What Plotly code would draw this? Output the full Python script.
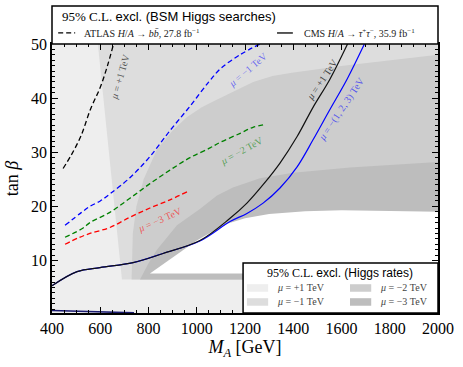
import plotly.graph_objects as go

# ── data ───────────────────────────────────────────────────────────────────────
Y_LO, Y_HI = 0.3, 50
X_LO, X_HI = 400, 2000

# excluded regions from Higgs rates (nested, drawn light -> dark, then allowed hole)
mu_p1_x = [400, 2000, 2000, 400]
mu_p1_y = [Y_LO, Y_LO, 50, 50]
mu_m1_x = [590, 690, 2000, 2000]
mu_m1_y = [50, 6.5, 6.5, 50]
mu_m2_x = [730, 735, 750, 780, 835, 900, 960, 1021, 1074, 1182, 1234, 1314, 1394, 1607, 2000, 2000]
mu_m2_y = [6.5, 15, 20, 25, 30.5, 34, 36.5, 38.3, 39.5, 41.9, 43, 44.1, 44.7, 46, 48, 6.5]
mu_m3_x = [765, 800, 835, 918, 1013, 1084, 1150, 1262, 1400, 1500, 1635, 2000, 2000]
mu_m3_y = [6.5, 9.5, 12, 16.5, 19.5, 22, 23.5, 25.2, 26.2, 26.6, 27.2, 28.2, 6.5]
allowed_x = [806, 900, 1000, 1060, 1126, 1200, 1300, 1450, 1600, 2000, 2000]
allowed_y = [7.6, 10.6, 13.7, 15.2, 16.8, 17.8, 18.6, 19.1, 19.3, 19.0, 7.6]

# ATLAS H/A -> bb (dashed)
atlas_p1_x = [446, 480, 520, 560, 600, 630, 655]
atlas_p1_y = [27, 29.5, 33, 38, 42, 46, 50]
atlas_m1_x = [454, 520, 557, 600, 640, 723, 806, 889, 972, 1050, 1100, 1179, 1262]
atlas_m1_y = [16.5, 18.8, 20.0, 21.0, 22.3, 25.3, 29.2, 34, 38.5, 43, 45.5, 48, 50]
atlas_m2_x = [454, 529, 557, 640, 723, 806, 889, 972, 1055, 1096, 1180, 1233, 1283]
atlas_m2_y = [14.3, 16, 17, 18.9, 21.5, 24.2, 26.7, 29, 30.8, 31.8, 33.5, 34.6, 35.1]
atlas_m3_x = [454, 510, 557, 640, 723, 806, 889, 960]
atlas_m3_y = [13.0, 14.2, 15.0, 16.1, 18.0, 19.7, 21.2, 22.7]

# CMS H/A -> tautau (solid)
cms_p1_x = [400, 504, 599, 736, 860, 1013, 1138, 1208, 1275, 1345, 1416, 1482, 1552, 1625]
cms_p1_y = [5.35, 7.95, 8.7, 9.6, 11.3, 13.7, 17.8, 20.6, 24.0, 28.0, 32.9, 38.3, 43.5, 50]
cms_m_x = [400, 504, 599, 736, 860, 1013, 1138, 1208, 1275, 1345, 1416, 1482, 1552, 1623, 1695]
cms_m_y = [5.35, 7.95, 8.7, 9.6, 11.3, 13.6, 17.2, 18.7, 20.6, 23.4, 27.3, 32.3, 37.9, 43.5, 50]
cms_low_x = [400, 560, 740]
cms_low_y = [0.75, 0.6, 0.33]

# ── style ──────────────────────────────────────────────────────────────────────
SERIF = "Liberation Serif, Times New Roman, serif"
C_P1, C_M1, C_M2, C_M3 = "#eeeeee", "#dddddd", "#cdcdcd", "#bdbdbd"
DASH = "5px,3px"


def note(fig, x, y, text, size, color="black", xanchor="center"):
    # paper-anchored text, explicit anchors so plotly doesn't guess
    fig.add_annotation(xref="paper", yref="paper", x=x, y=y, text=text, showarrow=False,
                       xanchor=xanchor, yanchor="middle",
                       font=dict(family=SERIF, size=size, color=color))


fig = go.Figure()

for xs, ys, col in [(mu_p1_x, mu_p1_y, C_P1), (mu_m1_x, mu_m1_y, C_M1),
                    (mu_m2_x, mu_m2_y, C_M2), (mu_m3_x, mu_m3_y, C_M3),
                    (allowed_x, allowed_y, "white")]:
    fig.add_trace(go.Scatter(x=xs, y=ys, fill="toself", fillcolor=col, mode="lines",
                             line=dict(width=0, color=col), hoverinfo="skip", showlegend=False))

for xs, ys, col in [(atlas_p1_x, atlas_p1_y, "black"), (atlas_m1_x, atlas_m1_y, "blue"),
                    (atlas_m2_x, atlas_m2_y, "green"), (atlas_m3_x, atlas_m3_y, "red")]:
    fig.add_trace(go.Scatter(x=xs, y=ys, mode="lines", line=dict(color=col, width=1.3, dash=DASH),
                             line_shape="spline", showlegend=False))

fig.add_trace(go.Scatter(x=cms_m_x, y=cms_m_y, mode="lines", line=dict(color="blue", width=1.2),
                         line_shape="spline", showlegend=False))
fig.add_trace(go.Scatter(x=cms_p1_x, y=cms_p1_y, mode="lines", line=dict(color="#111", width=1.2),
                         line_shape="spline", showlegend=False))
fig.add_trace(go.Scatter(x=cms_low_x, y=cms_low_y, mode="lines", line=dict(color="#1a1a70", width=1.5),
                         showlegend=False))

# curve labels
labels = [
    ("<i>μ</i> = +1 TeV", 682, 44.0, -74, "rgba(60,60,60,0.85)"),
    ("<i>μ</i> = −1 TeV", 1212, 45.3, -40, "rgba(0,0,255,0.55)"),
    ("<i>μ</i> = −2 TeV", 1187, 30.3, -29, "rgba(0,128,0,0.6)"),
    ("<i>μ</i> = −3 TeV", 848, 17.6, -24, "rgba(255,0,0,0.6)"),
    ("<i>μ</i> = +1 TeV", 1519, 43.5, -56, "rgba(40,40,40,0.85)"),
    ("<i>μ</i> = −(1, 2, 3) TeV", 1602, 37.9, -56, "rgba(0,0,255,0.6)"),
]
for txt, x, y, ang, col in labels:
    fig.add_annotation(x=x, y=y, text=txt, textangle=ang, showarrow=False,
                       xanchor="center", yanchor="middle",
                       font=dict(family=SERIF, size=10, color=col))

# ── top legend box (BSM Higgs searches) ────────────────────────────────────────
fig.add_shape(type="rect", xref="paper", yref="paper", x0=0, x1=1, y0=1, y1=1.141,
              line=dict(color="black", width=1.5), fillcolor="white", layer="above")
note(fig, 0.02, 1.104,
     '95% C.L. <span style="font-family:Liberation Sans">excl. (BSM Higgs searches)</span>',
     13, xanchor="left")
fig.add_shape(type="line", xref="paper", yref="paper", x0=0.016, x1=0.06, y0=1.041, y1=1.041,
              line=dict(color="black", width=1.3, dash=DASH), layer="above")
note(fig, 0.078, 1.041, "ATLAS <i>H</i>/<i>A</i> → <i>b</i><i>b̄</i>, 27.8 fb<sup>−1</sup>",
     10, "#222", xanchor="left")
fig.add_shape(type="line", xref="paper", yref="paper", x0=0.583, x1=0.624, y0=1.041, y1=1.041,
              line=dict(color="black", width=1.3), layer="above")
note(fig, 0.648, 1.041,
     "CMS <i>H</i>/<i>A</i> → <i>τ</i><sup>+</sup><i>τ</i><sup>−</sup>, 35.9 fb<sup>−1</sup>",
     10, "#222", xanchor="left")

# ── bottom legend box (Higgs rates) ────────────────────────────────────────────
fig.add_shape(type="rect", xref="paper", yref="paper", x0=0.495, x1=1, y0=0, y1=0.186,
              line=dict(color="black", width=1.5), fillcolor="white", layer="above")
note(fig, 0.745, 0.149,
     '95% C.L. <span style="font-family:Liberation Sans">excl. (Higgs rates)</span>', 12)
entries = [("<i>μ</i> = +1 TeV", C_P1, 0.505, 0.093), ("<i>μ</i> = −1 TeV", C_M1, 0.505, 0.041),
           ("<i>μ</i> = −2 TeV", C_M2, 0.772, 0.093), ("<i>μ</i> = −3 TeV", C_M3, 0.772, 0.041)]
for txt, col, x0, y in entries:
    fig.add_shape(type="rect", xref="paper", yref="paper", x0=x0, x1=x0 + 0.055,
                  y0=y - 0.014, y1=y + 0.014, line=dict(width=0), fillcolor=col, layer="above")
    note(fig, x0 + 0.073, y, txt, 10, "#444", xanchor="left")

axis_common = dict(showgrid=False, zeroline=False, showline=True, linecolor="black", linewidth=1.5,
                   mirror="allticks", ticks="inside", ticklen=6, tickwidth=1.3, tickcolor="black",
                   automargin=False, tickfont=dict(family=SERIF, size=16, color="black"))
fig.update_xaxes(range=[X_LO, X_HI], tickvals=list(range(400, 2001, 200)),
                 minor=dict(dtick=50, ticklen=3, ticks="inside", tickcolor="black"),
                 title=dict(text="<i>M</i><sub><i>A</i></sub> [GeV]", standoff=4,
                            font=dict(family=SERIF, size=18, color="black")),
                 **axis_common)
fig.update_yaxes(range=[Y_LO, Y_HI], tickvals=[10, 20, 30, 40, 50],
                 minor=dict(dtick=1, ticklen=3, ticks="inside", tickcolor="black"),
                 title=dict(text="tan <i>β</i>", standoff=8,
                            font=dict(family=SERIF, size=18, color="black")),
                 **axis_common)
fig.update_layout(width=463, height=367, margin=dict(l=52, r=25, t=44, b=54),
                  paper_bgcolor="white", plot_bgcolor="white", showlegend=False)

# browser default body margin would push the 463x367 figure off the window
fig.write_html("out.html", config={"displayModeBar": False},
               post_script="document.body.style.margin='0px';")
